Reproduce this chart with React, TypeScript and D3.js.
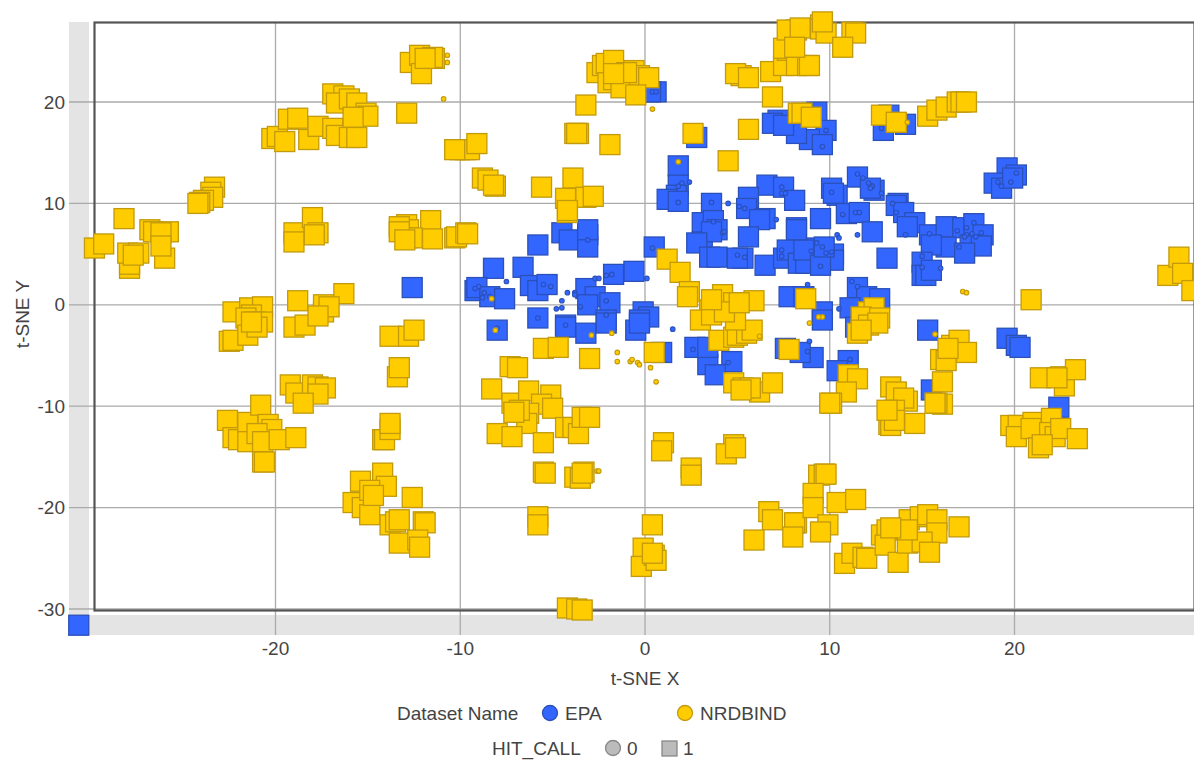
import React from "react";
import * as d3 from "d3";

type P = [number, number];

const xTicks = [-20, -10, 0, 10, 20];
const yTicks = [-30, -20, -10, 0, 10, 20];
const datasetNames = ["EPA", "NRDBIND"];
const hitCallLabels = ["0", "1"];

const epaHit1: P[] = [
  [-30.65,-31.6],[0.6,21.0],[0.3,21.0],[2.8,16.5],[1.8,13.7],[1.8,11.8],[1.7,10.8],[1.2,10.4],[1.8,10.2],[3.6,10.0],[3.1,8.1],[3.7,8.3],[3.9,7.4],[3.1,6.2],[3.6,7.2],[2.8,6.1],
  [6.6,11.8],[7.5,11.6],[5.6,10.6],[5.5,9.5],[6.5,8.5],[6.2,8.4],[8.1,10.3],[8.2,7.6],[5.6,6.7],[3.5,4.7],[3.9,4.7],[5.3,4.6],[5.0,4.6],[6.5,3.9],[7.5,4.6],[7.7,5.4],[8.3,4.1],
  [0.5,5.7],[-0.6,3.3],[-1.7,3.0],[-4.5,7.1],[-4.1,6.4],[-3.1,6.9],[-3.1,5.7],[-3.1,7.4],[-5.8,5.9],[-6.6,3.7],[-6.2,1.9],[-5.8,1.4],[-5.3,2.0],[-8.2,3.6],[-9.2,1.4],[-9.1,1.7],[-8.4,0.8],[-7.6,0.6],[-12.6,1.7],
  [-3.2,1.6],[-2.7,0.8],[-1.9,0.2],[-3.1,0.0],[-2.1,-1.5],[-5.8,-1.3],[-4.3,-2.0],[-0.1,-0.7],[0.2,-1.2],[-0.3,-1.5],[-8.0,-2.5],[-4.3,-2.2],[-3.2,-2.8],[-2.1,-1.8],[-0.5,-2.5],[-0.3,-1.8],
  [0.9,-4.7],[2.7,-4.2],[3.4,-5.9],[4.7,-5.6],[3.8,-6.9],[3.4,-4.2],[7.6,-4.3],[7.8,0.8],[11.5,1.7],[12.0,0.8],[12.7,0.6],[11.1,-0.3],[8.6,0.8],[9.6,-0.7],[15.3,-2.5],[9.1,-5.2],[8.4,-4.7],[11.0,-5.5],[10.4,-6.5],[9.6,-1.5],[11.4,-2.2],
  [19.6,-3.3],[20.1,-4.0],[20.3,-4.2],[15.5,-8.4],[22.4,-10.1],[9.3,19.0],[9.8,17.2],[8.9,16.3],[9.6,15.8],[8.2,16.9],[7.2,18.2],[6.9,17.9],[7.5,17.7],[12.9,17.2],[14.1,17.8],[13.2,18.7],
  [11.5,12.6],[10.1,11.5],[10.4,10.8],[10.2,11.0],[12.4,11.3],[12.2,11.5],[9.5,8.5],[10.9,9.0],[11.6,9.1],[12.3,7.2],[13.1,4.6],[13.7,10.0],[13.6,9.8],[14.0,9.1],[14.6,8.1],[14.2,7.7],
  [15.4,6.9],[16.3,7.7],[17.2,7.6],[17.8,8.0],[18.3,6.9],[16.3,5.7],[15.5,5.9],[17.6,5.9],[18.2,5.8],[17.3,5.1],[15.0,4.2],[15.0,2.9],[15.2,2.9],[15.5,3.4],
  [19.6,13.5],[20.1,12.8],[18.9,12.0],[19.3,11.5],[19.9,12.5],[8.7,4.1],[9.1,5.6],[8.6,5.4],[10.2,5.0],[10.2,4.4],[9.5,3.9],[9.7,5.7],[8.2,7.4],
];

const nrdbindHit1: P[] = [
  [-29.8,5.6],[-29.3,6.0],[-28.2,8.5],[-27.9,3.6],[-27.9,4.0],[-28.0,5.1],[-27.4,5.1],[-27.7,4.9],[-26.8,7.4],[-26.6,7.2],[-25.8,7.2],[-26.2,7.1],[-26.0,4.6],[-26.2,5.8],
  [-23.3,11.6],[-23.5,11.1],[-23.4,10.6],[-23.9,10.3],[-24.1,10.1],[-24.2,10.0],
  [-20.2,16.4],[-19.9,16.6],[-19.5,16.1],[-19.3,18.3],[-18.8,18.4],[-18.2,16.3],[-17.7,17.6],[-16.9,17.4],[-16.7,16.7],[-16.0,16.5],[-15.6,16.5],[-16.9,20.8],[-16.3,20.6],[-16.7,19.9],[-16.0,20.3],[-15.6,19.9],[-15.1,18.9],[-15.0,18.6],[-15.8,18.5],
  [-19.0,7.1],[-19.0,6.2],[-18.0,8.6],[-17.7,7.1],[-17.9,6.9],
  [-22.3,-0.7],[-21.4,-0.3],[-20.7,-0.2],[-21.3,-1.0],[-21.6,-1.3],[-21.1,-1.7],[-20.7,-1.7],[-22.5,-3.6],[-22.3,-3.5],[-21.5,-3.0],[-21.0,-2.2],[-21.3,-1.7],
  [-18.8,0.4],[-17.4,-0.7],[-16.3,1.1],[-17.4,0.0],[-17.1,-0.2],[-19.0,-2.2],[-18.4,-2.0],[-17.7,-1.1],
  [-19.2,-7.9],[-18.9,-8.7],[-18.0,-7.9],[-17.7,-8.1],[-17.3,-8.2],[-17.7,-8.8],[-18.5,-9.7],
  [-22.6,-11.4],[-22.3,-13.1],[-22.0,-13.3],[-21.5,-11.6],[-20.8,-9.9],[-21.5,-13.5],[-20.4,-11.8],[-20.2,-12.3],[-21.0,-12.7],[-20.7,-13.5],[-19.8,-13.3],[-18.9,-13.1],[-20.7,-15.5],[-20.6,-15.5],
  [-14.2,-13.3],[-14.1,-13.3],[-13.8,-12.3],[-13.8,-11.7],[-13.4,-7.1],[-13.3,-6.2],[-13.8,-3.1],[-12.8,-3.1],[-12.5,-2.5],
  [-15.4,-17.4],[-14.2,-16.6],[-14.0,-17.9],[-15.8,-19.5],[-15.3,-20.0],[-14.9,-20.7],[-14.9,-18.3],[-14.7,-18.8],[-13.8,-21.7],[-13.5,-21.4],[-13.3,-23.5],[-12.6,-19.0],[-12.0,-21.4],[-11.9,-21.5],[-12.3,-23.2],[-12.2,-23.9],[-13.3,-21.2],
  [-12.7,23.9],[-12.2,24.6],[-12.1,22.8],[-11.4,24.3],[-11.5,24.4],[-11.9,24.3],[-12.9,18.9],
  [-10.0,15.3],[-9.7,15.3],[-9.5,15.3],[-10.3,15.3],[-9.1,15.9],[-8.8,12.5],[-8.5,12.3],[-8.1,11.7],[-8.2,11.8],
  [-12.9,7.9],[-12.8,7.4],[-13.3,7.7],[-11.6,8.3],[-11.5,6.5],[-12.9,6.6],[-12.6,6.6],[-10.3,6.6],[-10.2,6.7],[-9.7,7.1],[-9.6,7.0],[-13.3,7.2],[-13.0,6.4],
  [-5.6,11.6],[-3.9,12.5],[-4.3,10.5],[-3.2,10.6],[-2.8,10.7],[-4.2,9.1],[-4.2,9.3],[-3.2,19.7],[-3.8,16.9],[-3.6,16.9],[-3.7,16.9],[-1.9,15.8],
  [-2.6,22.9],[-2.3,23.6],[-2.1,23.8],[-1.7,24.1],[-2.0,21.9],[-1.7,22.2],[-1.3,21.4],[-0.6,23.1],[-0.3,22.6],[0.2,22.4],[-0.5,20.7],[-1.0,22.9],[-1.7,22.8],
  [5.2,22.6],[4.9,22.8],[5.6,22.4],[6.8,23.0],[6.9,20.5],[5.6,17.3],[2.6,16.9],[4.5,14.2],[7.5,23.6],[7.7,25.1],[7.5,25.3],[8.2,27.1],[7.7,27.1],[8.2,23.6],[8.3,18.9],[9.5,27.6],[8.4,27.3],[9.5,27.2],[9.8,26.8],[11.2,26.9],[11.4,26.8],[10.7,25.4],[8.8,23.6],[8.9,23.6],[8.1,25.4],[9.6,27.9],[8.5,18.9],[9.0,18.5],
  [12.8,18.7],[13.6,18.0],[15.3,18.6],[15.8,19.2],[16.3,19.5],[16.9,20.0],[17.1,20.0],[17.4,20.0],[28.3,2.9],[28.9,4.7],[29.1,3.1],[29.6,1.4],[20.9,0.5],
  [1.2,4.5],[1.9,3.2],[2.4,1.3],[2.3,0.8],[3.5,-0.5],[4.2,1.0],[4.8,0.2],[5.9,0.4],[8.7,0.6],[-5.5,-4.3],[-4.7,-4.2],[-3.0,-5.3],[0.5,-4.7],
  [-7.3,-6.1],[-6.9,-6.2],[-8.3,-8.3],[-7.2,-9.7],[-6.3,-8.5],[-5.1,-8.9],[-5.6,-9.8],[-5.0,-10.2],[-6.3,-10.7],[-6.4,-11.7],[-6.8,-10.4],[-7.1,-10.6],[-8.0,-12.7],[-7.2,-13.0],[-5.5,-13.6],[-4.3,-12.1],[-3.9,-12.1],[-3.6,-12.7],[-3.4,-11.1],[-3.0,-11.1],
  [-5.5,-16.5],[-5.4,-16.6],[-3.8,-17.0],[-3.5,-17.1],[-3.3,-16.5],[-3.4,-16.6],[-5.8,-20.9],[-5.8,-21.7],[0.4,-21.7],[-0.1,-24.0],[-0.2,-25.8],[0.5,-24.7],[0.6,-25.2],[0.4,-24.5],[-4.2,-29.9],[-3.7,-30.0],[-3.4,-30.1],
  [1.0,-13.6],[0.9,-14.4],[2.5,-16.1],[2.5,-16.8],[4.8,-13.8],[4.4,-14.7],[4.9,-14.1],[8.2,-21.5],[6.7,-20.4],[6.9,-21.2],[5.9,-23.2],[8.1,-21.5],[8.0,-22.9],
  [4.8,-7.7],[6.2,-8.6],[5.3,-8.2],[5.7,-8.2],[6.9,-7.7],[5.2,-8.4],[4.0,-3.5],[4.8,-3.2],[5.0,-3.0],[5.5,-2.8],[5.8,-2.5],[7.8,-4.4],[3.0,-1.5],[3.6,-1.0],[4.9,-1.5],[4.3,-0.7],[3.6,0.5],[5.1,0.2],
  [12.1,-0.7],[12.4,-0.3],[11.7,-1.2],[12.7,-1.3],[11.5,-2.8],[12.1,-2.0],[12.6,-1.8],[11.7,-2.5],[11.0,-6.9],[11.5,-7.3],[10.9,-8.6],[10.1,-9.7],[10.0,-9.7],
  [16.0,-5.4],[16.6,-4.0],[17.0,-3.5],[17.4,-4.7],[16.3,-5.5],[16.4,-4.3],[16.1,-7.6],[16.1,-9.8],[15.8,-9.7],[15.7,-9.7],
  [13.3,-8.1],[13.6,-8.6],[14.2,-9.5],[14.0,-9.2],[13.5,-10.4],[14.6,-11.7],[13.2,-11.8],[13.3,-11.9],[13.5,-11.4],[13.1,-10.4],
  [21.4,-7.2],[22.5,-7.1],[22.7,-8.0],[23.3,-6.4],[22.3,-7.2],[19.8,-11.9],[20.2,-11.9],[20.1,-13.0],[21.0,-11.6],[20.9,-12.2],[22.0,-11.2],[21.3,-14.1],[21.9,-12.6],[22.2,-13.0],[22.5,-12.2],[23.4,-13.2],[21.5,-13.8],
  [9.4,-16.8],[9.7,-16.7],[9.8,-16.7],[9.1,-18.6],[9.1,-20.0],[10.4,-19.5],[11.4,-19.2],[9.9,-21.7],[9.5,-22.4],
  [10.8,-25.5],[11.2,-24.5],[11.8,-24.9],[12.0,-25.0],[12.8,-22.7],[13.1,-22.2],[13.0,-23.7],[13.7,-25.4],[14.2,-23.5],[14.3,-21.2],[14.9,-20.9],[15.3,-20.7],[15.8,-21.2],[15.8,-22.5],[15.0,-23.4],[15.4,-24.4],[17.0,-21.9],[14.2,-22.2],[13.3,-22.0],
];

const epaHit0: P[] = [
  [-7.5,2.3],[-4.2,1.2],[-4.5,0.4],[-4.8,-0.4],[-4.5,-0.3],[-3.8,1.2],[-3.8,1.0],[-2.7,2.6],[-2.5,2.6],[0.1,2.6],[2.4,12.1],[4.5,10.0],[7.1,8.4],[-3.1,6.4],[0.4,21.0],[0.6,21.0],[1.8,10.1],[2.0,12.0],[1.8,11.7],[3.6,10.1],[3.7,8.2],[7.4,11.6],[7.4,11.0],[7.6,11.0],[5.1,9.7],[5.4,9.5],[0.4,5.6],[5.0,4.9],[5.4,4.7],[7.4,5.4],[7.4,4.8],[4.2,7.1],[4.3,7.2],[-2.1,2.9],[-1.8,3.0],[-5.5,2.0],[-5.1,1.8],[-9.0,1.8],[-9.2,1.6],[-8.7,1.2],[-8.8,0.7],[-8.4,0.8],[-2.1,0.4],[-3.5,-0.2],[-5.8,-1.3],[-2.1,-1.0],
  [10.4,6.9],[10.5,6.6],[11.5,6.9],[11.5,12.9],[12.1,12.0],[12.3,11.7],[12.2,11.5],[12.8,11.0],[11.8,12.5],[10.1,11.1],[13.4,10.0],[13.6,9.1],[10.7,8.9],[11.4,9.1],[11.6,9.1],[14.1,6.9],[15.4,7.0],[16.9,7.3],[17.4,7.6],[17.8,8.1],[17.4,6.9],[17.3,6.7],[17.7,7.0],[17.9,6.7],[17.0,5.7],[18.2,7.1],[16.0,3.6],[15.0,4.8],[15.0,3.7],[11.2,2.3],[11.5,1.8],[8.8,2.0],[9.0,5.3],[9.8,5.1],[10.1,5.2],[9.5,3.8],[9.6,5.7],[9.3,6.1],[9.8,17.2],[9.6,15.6],[12.8,17.4],[20.1,13.0],[19.8,12.1],[19.1,12.1],[19.3,11.7],[10.5,-0.4],[1.5,-2.4],[2.6,-4.4],[4.5,-5.7],[-4.3,-2.0],[-8.0,-2.3],[11.1,-5.4],[8.8,-4.6],[8.9,-3.6],
];

const nrdbindHit0: P[] = [
  [-10.7,24.6],[-10.7,23.9],[-10.9,20.3],[0.4,19.3],[1.8,14.1],[-8.3,0.6],[14.2,18.0],[17.2,1.3],[17.4,1.2],[9.6,-1.2],[9.4,-1.2],[-8.1,-2.5],[-2.9,-3.0],[-1.8,-2.8],[-1.5,-4.7],[-1.5,-5.6],[-0.8,-5.6],[-0.7,-5.4],[-0.4,-5.7],[-0.3,-5.9],[0.3,-6.2],[0.6,-7.6],[-2.6,-16.4],[-2.5,-16.4],[6.2,-3.1],[15.7,-2.9],[8.9,-1.8],
];

const BLUE = "#3366ff";
const BLUE_EDGE = "#2b50b8";
const YELLOW = "#ffcc00";
const YELLOW_EDGE = "#c29a0c";
const TEXT = "#444444";
const GRID = "#aaaaaa";
const BAND = "#e4e4e4";
const FRAME = "#555555";
const FONT = "'Liberation Sans', Arial, sans-serif";

const x = d3.scaleLinear().domain([-20, 20]).range([275.5, 1014.5]);
const y = d3.scaleLinear().domain([-30, 20]).range([609, 102]);

const SQ = 20;

function Squares({ data, fill, stroke }: { data: P[]; fill: string; stroke: string }) {
  return (
    <g>
      {data.map((d, i) => (
        <rect key={i} x={x(d[0]) - SQ / 2} y={y(d[1]) - SQ / 2} width={SQ} height={SQ} fill={fill} stroke={stroke} strokeWidth={1.3} />
      ))}
    </g>
  );
}

function Dots({ data, fill, stroke }: { data: P[]; fill: string; stroke: string }) {
  return (
    <g>
      {data.map((d, i) => (
        <circle key={i} cx={x(d[0])} cy={y(d[1])} r={2.3} fill={fill} stroke={stroke} strokeWidth={1.1} />
      ))}
    </g>
  );
}

export default function App() {
  const textProps = { fontFamily: FONT, fontSize: 19, fill: TEXT };
  return (
    <svg width={1194} height={760} style={{ position: "absolute", left: 0, top: 0, display: "block", background: "#fff" }}>
      <rect x={69} y={22} width={20} height={613} fill={BAND} />
      <rect x={69} y={615} width={1125} height={20} fill={BAND} />
      {xTicks.map((t) => (
        <line key={t} x1={x(t)} x2={x(t)} y1={22} y2={635} stroke={GRID} strokeWidth={1.3} />
      ))}
      {yTicks.map((t) => (
        <line key={t} x1={69} x2={1194} y1={y(t)} y2={y(t)} stroke={GRID} strokeWidth={1.3} />
      ))}
      <rect x={94.5} y={22.5} width={1100} height={588} fill="none" stroke={FRAME} strokeWidth={2.2} />

      <Squares data={epaHit1} fill={BLUE} stroke={BLUE_EDGE} />
      <Dots data={epaHit0} fill={BLUE} stroke={BLUE_EDGE} />
      <Squares data={nrdbindHit1} fill={YELLOW} stroke={YELLOW_EDGE} />
      <Dots data={nrdbindHit0} fill={YELLOW} stroke={YELLOW_EDGE} />

      {xTicks.map((t) => (
        <text key={t} x={x(t)} y={648} textAnchor="middle" dominantBaseline="central" {...textProps}>{t}</text>
      ))}
      {yTicks.map((t) => (
        <text key={t} x={65} y={y(t)} textAnchor="end" dominantBaseline="central" {...textProps}>{t}</text>
      ))}
      <text x={645} y={678} textAnchor="middle" dominantBaseline="central" {...textProps}>t-SNE X</text>
      <text transform="translate(22,314) rotate(-90)" textAnchor="middle" dominantBaseline="central" {...textProps}>t-SNE Y</text>

      <text x={397} y={713} dominantBaseline="central" {...textProps}>Dataset Name</text>
      <circle cx={550} cy={713} r={7.5} fill={BLUE} stroke={BLUE_EDGE} strokeWidth={1.3} />
      <text x={565} y={713} dominantBaseline="central" {...textProps}>{datasetNames[0]}</text>
      <circle cx={685} cy={713} r={7.5} fill={YELLOW} stroke={YELLOW_EDGE} strokeWidth={1.3} />
      <text x={700} y={713} dominantBaseline="central" {...textProps}>{datasetNames[1]}</text>

      <text x={492} y={748} dominantBaseline="central" {...textProps}>HIT_CALL</text>
      <circle cx={613} cy={748} r={7.5} fill="#bbbbbb" stroke="#888888" strokeWidth={1.3} />
      <text x={627} y={748} dominantBaseline="central" {...textProps}>{hitCallLabels[0]}</text>
      <rect x={662} y={741} width={15} height={15} fill="#bbbbbb" stroke="#888888" strokeWidth={1.3} />
      <text x={683} y={748} dominantBaseline="central" {...textProps}>{hitCallLabels[1]}</text>
    </svg>
  );
}
